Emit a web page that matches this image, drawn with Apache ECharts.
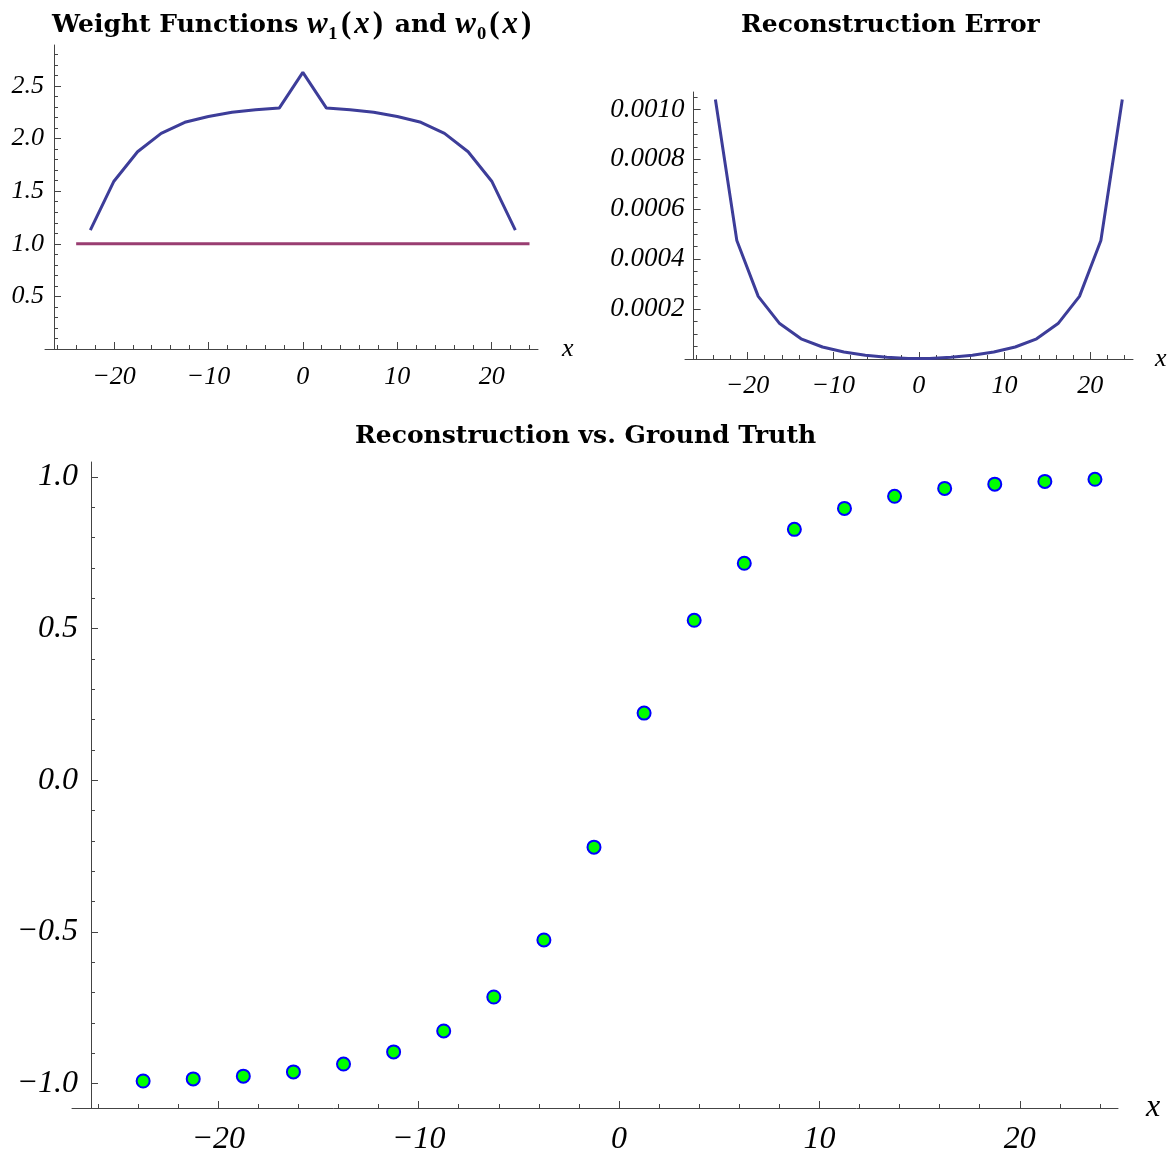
<!DOCTYPE html>
<html>
<head>
<meta charset="utf-8">
<script src="https://cdn.jsdelivr.net/npm/echarts@6/dist/echarts.min.js"></script>
<style>
  html, body { margin: 0; padding: 0; background: #fff; }
  #main { width: 1174px; height: 1154px; }
</style>
</head>
<body>
<div id="main"></div>
<script>
// weight functions
const xW1 = [-22.5, -20, -17.5, -15, -12.5, -10, -7.5, -5, -2.5, 0, 2.5, 5, 7.5, 10, 12.5, 15, 17.5, 20, 22.5]
const w1 = [1.13, 1.595, 1.875, 2.05, 2.155, 2.21, 2.25, 2.275, 2.29, 2.63, 2.29, 2.275, 2.25, 2.21, 2.155, 2.05, 1.875, 1.595, 1.13]
const xW0 = [-24, 24]
const w0 = [1, 1]

// sample points shared by error + reconstruction
const xs = [-23.75, -21.25, -18.75, -16.25, -13.75, -11.25, -8.75, -6.25, -3.75, -1.25,
  1.25, 3.75, 6.25, 8.75, 11.25, 13.75, 16.25, 18.75, 21.25, 23.75]
const err = [0.00104, 0.000475, 0.000251, 0.000142, 0.000081, 0.000048, 0.000028, 0.000015, 0.000007, 0.000002,
  0.000002, 0.000007, 0.000015, 0.000028, 0.000048, 0.000081, 0.000142, 0.000251, 0.000475, 0.00104]
const recon = [-0.992, -0.985, -0.976, -0.962, -0.936, -0.896, -0.827, -0.715, -0.527, -0.221,
  0.221, 0.527, 0.715, 0.827, 0.896, 0.936, 0.962, 0.976, 0.985, 0.992]

// ticks
const xMajor = [-20, -10, 0, 10, 20]
const xMinor = [-26, -24, -22, -18, -16, -14, -12, -8, -6, -4, -2, 2, 4, 6, 8, 12, 14, 16, 18, 22, 24]
const wMajor = [0.5, 1.0, 1.5, 2.0, 2.5]
const wMinor = [0.1, 0.2, 0.3, 0.4, 0.6, 0.7, 0.8, 0.9, 1.1, 1.2, 1.3, 1.4, 1.6, 1.7, 1.8, 1.9,
  2.1, 2.2, 2.3, 2.4, 2.6, 2.7, 2.8]
const errMajor = [0.0002, 0.0004, 0.0006, 0.0008, 0.0010]
const errMinor = [0.00005, 0.0001, 0.00015, 0.00025, 0.0003, 0.00035, 0.00045, 0.0005, 0.00055,
  0.00065, 0.0007, 0.00075, 0.00085, 0.0009, 0.00095, 0.00105]
const rMajor = [-1.0, -0.5, 0.0, 0.5, 1.0]
const rMinor = [-0.9, -0.8, -0.7, -0.6, -0.4, -0.3, -0.2, -0.1, 0.1, 0.2, 0.3, 0.4, 0.6, 0.7, 0.8, 0.9]

const AXIS = '#444'
const SERIF = 'Liberation Serif'
const zip = (a, b) => a.map((v, i) => [v, b[i]])
const minus = s => String(s).replace('-', '\u2212')

function xAxes(grid, min, max, size, margin, gap) {
  const base = { type: 'value', gridIndex: grid, min: min, max: max, position: 'bottom',
    splitLine: { show: false } }
  return [
    Object.assign({}, base, {
      name: 'x', nameLocation: 'end', nameGap: gap,
      nameTextStyle: { fontFamily: SERIF, fontStyle: 'italic', fontSize: size, color: '#000' },
      axisLine: { onZero: false, lineStyle: { color: AXIS, width: 1 } },
      axisTick: { inside: true, length: 7, customValues: xMajor, lineStyle: { color: AXIS } },
      axisLabel: { customValues: xMajor, margin: margin, fontFamily: SERIF, fontStyle: 'italic',
        fontSize: size, color: '#000', formatter: v => minus(v) }
    }),
    Object.assign({}, base, {
      axisLine: { show: false, onZero: false },
      axisTick: { inside: true, length: 4, customValues: xMinor, lineStyle: { color: AXIS } },
      axisLabel: { show: false }
    })
  ]
}

function yAxes(grid, min, max, major, minor, off, size, margin, fmt) {
  const base = { type: 'value', gridIndex: grid, min: min, max: max, position: 'left',
    offset: off, splitLine: { show: false } }
  return [
    Object.assign({}, base, {
      axisLine: { onZero: false, lineStyle: { color: AXIS, width: 1 } },
      axisTick: { inside: true, length: 7, customValues: major, lineStyle: { color: AXIS } },
      axisLabel: { customValues: major, margin: margin, fontFamily: SERIF, fontStyle: 'italic',
        fontSize: size, color: '#000', formatter: v => minus(fmt(v)) }
    }),
    Object.assign({}, base, {
      axisLine: { show: false, onZero: false },
      axisTick: { inside: true, length: 4, customValues: minor, lineStyle: { color: AXIS } },
      axisLabel: { show: false }
    })
  ]
}

const bold = { fontFamily: 'DejaVu Serif', fontWeight: 'bold', fontSize: 25, color: '#000' }
const titleRich = {
  b: Object.assign({}, bold, { lineHeight: 30 }),
  i: { fontFamily: SERIF, fontStyle: 'italic', fontSize: 31, color: '#000', lineHeight: 30 },
  r: { fontFamily: SERIF, fontSize: 31, color: '#000', lineHeight: 30, padding: [0, 3, 0, 3] },
  s: { fontFamily: SERIF, fontSize: 31, color: '#000', lineHeight: 30, padding: [0, 0, 0, 1] }
}

const chart = echarts.init(document.getElementById('main'), null, { renderer: 'canvas' })

const option = {
  backgroundColor: '#fff',
  animation: false,
  title: [
    { left: 47, top: 5,
      text: '{b|Weight Functions }{i|w}{s|\u2081}{r|(}{i|x}{r|)}{b| and }{i|w}{s|\u2080}{r|(}{i|x}{r|)}',
      textStyle: { rich: titleRich } },
    { left: 736, top: 8, text: 'Reconstruction Error', textStyle: bold },
    { left: 350, top: 419, text: 'Reconstruction vs. Ground Truth', textStyle: bold }
  ],
  grid: [
    { left: 45, top: 45, width: 493, height: 304, outerBoundsMode: 'none' },
    { left: 685, top: 92, width: 448, height: 267, outerBoundsMode: 'none' },
    { left: 72, top: 462, width: 1046, height: 646, outerBoundsMode: 'none' }
  ],
  xAxis: [].concat(
    xAxes(0, -27.3, 24.9, 26, 15, 24),
    xAxes(1, -27.3, 25.0, 26, 14, 22),
    xAxes(2, -27.3, 24.9, 32, 16, 28)
  ),
  yAxis: [].concat(
    yAxes(0, 0, 2.89, wMajor, wMinor, -9, 26, 10, v => v.toFixed(1)),
    yAxes(1, 0, 0.00107, errMajor, errMinor, -8.6, 27, 9, v => v.toFixed(4)),
    yAxes(2, -1.081, 1.049, rMajor, rMinor, -19, 32, 13, v => v.toFixed(1))
  ),
  series: [
    { type: 'line', name: 'w1', xAxisIndex: 0, yAxisIndex: 0, data: zip(xW1, w1),
      showSymbol: false, lineStyle: { color: '#3D3D99', width: 3 } },
    { type: 'line', name: 'w0', xAxisIndex: 0, yAxisIndex: 0, data: zip(xW0, w0),
      showSymbol: false, lineStyle: { color: '#993D71', width: 3 } },
    { type: 'line', name: 'error', xAxisIndex: 2, yAxisIndex: 2, data: zip(xs, err),
      showSymbol: false, lineStyle: { color: '#3D3D99', width: 3 } },
    { type: 'scatter', name: 'recon', xAxisIndex: 4, yAxisIndex: 4, data: zip(xs, recon),
      symbolSize: 13, itemStyle: { color: '#00FF00', borderColor: '#0000FF', borderWidth: 2, opacity: 1 } }
  ]
}

chart.setOption(option)
</script>
</body>
</html>
